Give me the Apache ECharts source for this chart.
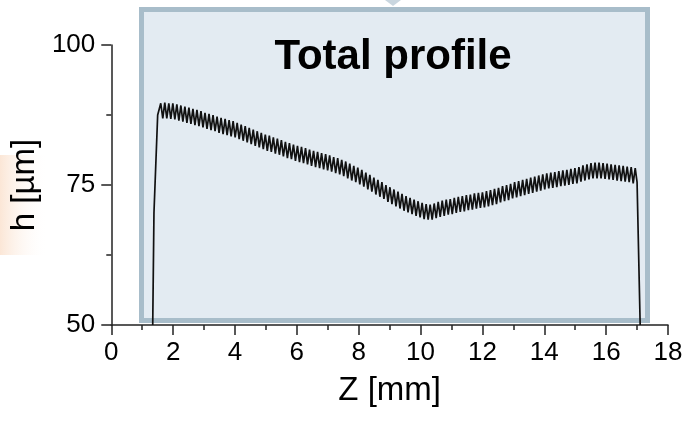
<!DOCTYPE html>
<html>
<head>
<meta charset="utf-8">
<script src="https://cdn.jsdelivr.net/npm/echarts@6/dist/echarts.min.js"></script>
<style>
html,body{margin:0;padding:0;background:#ffffff;}
#chart{width:687px;height:422px;}
</style>
</head>
<body>
<div id="chart"></div>
<script>
// ---- data ----
const xTickLabels = ['0','2','4','6','8','10','12','14','16','18'];
const yTickLabels = ['50','75','100'];

// leading edge (steep rise) and trailing edge (drop)
const riseZ = [1.34, 1.38, 1.50];
const riseH = [50.0, 70.0, 87.5];
const dropZ = [17.00, 17.10];
const dropH = [75.5, 50.0];

// ripple peaks
const peakZ = [1.60,1.73,1.86,1.99,2.12,2.25,2.38,2.51,2.64,2.77,2.90,3.03,3.16,3.29,3.42,3.55,3.68,3.81,3.94,4.07,4.20,4.33,4.46,4.59,4.72,4.85,4.98,5.11,5.24,5.37,5.50,5.63,5.76,5.89,6.02,6.15,6.28,6.41,6.54,6.67,6.80,6.93,7.06,7.19,7.32,7.45,7.58,7.71,7.84,7.97,8.10,8.23,8.36,8.49,8.62,8.75,8.88,9.01,9.14,9.27,9.40,9.53,9.66,9.79,9.92,10.05,10.18,10.31,10.44,10.57,10.70,10.83,10.96,11.09,11.22,11.35,11.48,11.61,11.74,11.87,12.00,12.13,12.26,12.39,12.52,12.65,12.78,12.91,13.04,13.17,13.30,13.43,13.56,13.69,13.82,13.95,14.08,14.21,14.34,14.47,14.60,14.73,14.86,14.99,15.12,15.25,15.38,15.51,15.64,15.77,15.90,16.03,16.16,16.29,16.42,16.55,16.68,16.81,16.94];
const peakH = [89.6,89.7,89.6,89.6,89.4,89.2,89.0,88.8,88.6,88.4,88.2,87.9,87.7,87.5,87.2,87.0,86.8,86.6,86.4,86.1,85.8,85.5,85.2,84.9,84.6,84.3,84.0,83.8,83.5,83.3,83.0,82.7,82.5,82.2,82.0,81.8,81.6,81.3,81.1,80.9,80.7,80.5,80.3,80.0,79.8,79.5,79.2,78.8,78.4,78.1,77.7,77.2,76.8,76.3,75.9,75.5,75.0,74.6,74.2,73.8,73.4,73.0,72.7,72.4,72.1,71.8,71.6,71.5,71.7,72.0,72.2,72.4,72.5,72.7,72.9,73.0,73.2,73.3,73.5,73.6,73.7,73.9,74.1,74.3,74.5,74.8,75.0,75.2,75.5,75.7,75.9,76.1,76.3,76.5,76.7,76.9,77.1,77.2,77.3,77.5,77.6,77.7,77.9,78.0,78.2,78.5,78.7,78.9,79.0,79.0,78.9,78.8,78.7,78.6,78.5,78.4,78.3,78.2,78.0];

// ripple troughs
const troughZ = [1.665,1.795,1.925,2.055,2.185,2.315,2.445,2.575,2.705,2.835,2.965,3.095,3.225,3.355,3.485,3.615,3.745,3.875,4.005,4.135,4.265,4.395,4.525,4.655,4.785,4.915,5.045,5.175,5.305,5.435,5.565,5.695,5.825,5.955,6.085,6.215,6.345,6.475,6.605,6.735,6.865,6.995,7.125,7.255,7.385,7.515,7.645,7.775,7.905,8.035,8.165,8.295,8.425,8.555,8.685,8.815,8.945,9.075,9.205,9.335,9.465,9.595,9.725,9.855,9.985,10.115,10.245,10.375,10.505,10.635,10.765,10.895,11.025,11.155,11.285,11.415,11.545,11.675,11.805,11.935,12.065,12.195,12.325,12.455,12.585,12.715,12.845,12.975,13.105,13.235,13.365,13.495,13.625,13.755,13.885,14.015,14.145,14.275,14.405,14.535,14.665,14.795,14.925,15.055,15.185,15.315,15.445,15.575,15.705,15.835,15.965,16.095,16.225,16.355,16.485,16.615,16.745,16.875];
const troughH = [86.9,86.9,86.8,86.7,86.5,86.3,86.1,85.9,85.7,85.5,85.3,85.0,84.8,84.6,84.3,84.1,83.9,83.7,83.5,83.2,82.9,82.6,82.3,82.0,81.7,81.4,81.1,80.9,80.6,80.4,80.1,79.8,79.6,79.3,79.1,78.9,78.7,78.4,78.2,78.0,77.8,77.6,77.4,77.1,76.9,76.6,76.2,75.8,75.5,75.1,74.7,74.2,73.8,73.3,72.9,72.5,72.0,71.6,71.2,70.8,70.4,70.1,69.8,69.5,69.2,68.9,68.8,68.8,69.1,69.3,69.5,69.7,69.8,70.0,70.2,70.3,70.5,70.6,70.8,70.9,71.0,71.2,71.4,71.6,71.9,72.1,72.3,72.6,72.8,73.0,73.2,73.4,73.6,73.8,74.0,74.2,74.4,74.5,74.6,74.8,74.9,75.0,75.2,75.3,75.6,75.8,76.0,76.2,76.2,76.2,76.1,76.0,75.9,75.8,75.7,75.6,75.5,75.3];

// ---- build series table ----
const profile = [];
riseZ.forEach((z, i) => profile.push([z, riseH[i]]));
peakZ.forEach((z, i) => {
  profile.push([z, peakH[i]]);
  if (i < troughZ.length) profile.push([troughZ[i], troughH[i]]);
});
dropZ.forEach((z, i) => profile.push([z, dropH[i]]));

const FONT = '"Liberation Sans", Arial, sans-serif';
const chart = echarts.init(document.getElementById('chart'), null, {renderer: 'canvas'});
chart.setOption({
  animation: false,
  backgroundColor: '#ffffff',
  grid: {left: 105, right: 19, top: 45, bottom: 97, containLabel: false},
  graphic: [
    { type: 'rect', z: -10, silent: true,
      shape: {x: 0, y: 155, width: 48, height: 100},
      style: {fill: new echarts.graphic.LinearGradient(0, 0, 1, 0, [
        {offset: 0, color: 'rgba(250,224,204,0.8)'},
        {offset: 1, color: 'rgba(255,255,255,0)'}])}
    },
    { type: 'polygon', z: -10, silent: true,
      shape: {points: [[385, 0], [401, 0], [393, 6]]},
      style: {fill: '#c9d6df'}
    },
    { type: 'rect', z: -5, silent: true,
      shape: {x: 141.5, y: 9.5, width: 506, height: 311},
      style: {fill: '#e3ebf2', stroke: '#a8bdca', lineWidth: 5}
    },
    { type: 'text', z: 100, silent: true,
      x: 393, y: 57,
      style: {text: 'Total profile', fill: '#000', font: 'bold 42px ' + FONT,
        textAlign: 'center', textVerticalAlign: 'middle'}
    }
  ],
  xAxis: {
    type: 'value', min: 0, max: 18, interval: 2,
    name: 'Z [mm]', nameLocation: 'middle', nameGap: 49,
    nameTextStyle: {fontSize: 33, color: '#000', fontFamily: FONT},
    axisLine: {onZero: false, lineStyle: {color: '#222', width: 1.5}},
    axisTick: {show: true, length: 10, lineStyle: {color: '#222', width: 1.5}},
    minorTick: {show: true, splitNumber: 2, length: 5, lineStyle: {color: '#222', width: 1.5}},
    splitLine: {show: false},
    axisLabel: {fontSize: 26, color: '#000', fontFamily: FONT, margin: 15,
      formatter: v => xTickLabels[Math.round(v / 2)] ?? ''}
  },
  yAxis: {
    type: 'value', min: 50, max: 100, interval: 25,
    name: 'h [µm]', nameLocation: 'middle', nameGap: 62,
    nameTextStyle: {fontSize: 33, color: '#000', fontFamily: FONT},
    axisLine: {show: true, onZero: false, lineStyle: {color: '#222', width: 1.5}},
    axisTick: {show: true, length: 10, lineStyle: {color: '#222', width: 1.5}},
    minorTick: {show: true, splitNumber: 2, length: 5, lineStyle: {color: '#222', width: 1.5}},
    splitLine: {show: false},
    axisLabel: {fontSize: 26, color: '#000', fontFamily: FONT, margin: 16,
      formatter: v => yTickLabels[Math.round((v - 50) / 25)] ?? ''}
  },
  series: [{
    type: 'line', data: profile, showSymbol: false, smooth: false,
    lineStyle: {color: '#111111', width: 1.7}, z: 5
  }]
});
</script>
</body>
</html>
